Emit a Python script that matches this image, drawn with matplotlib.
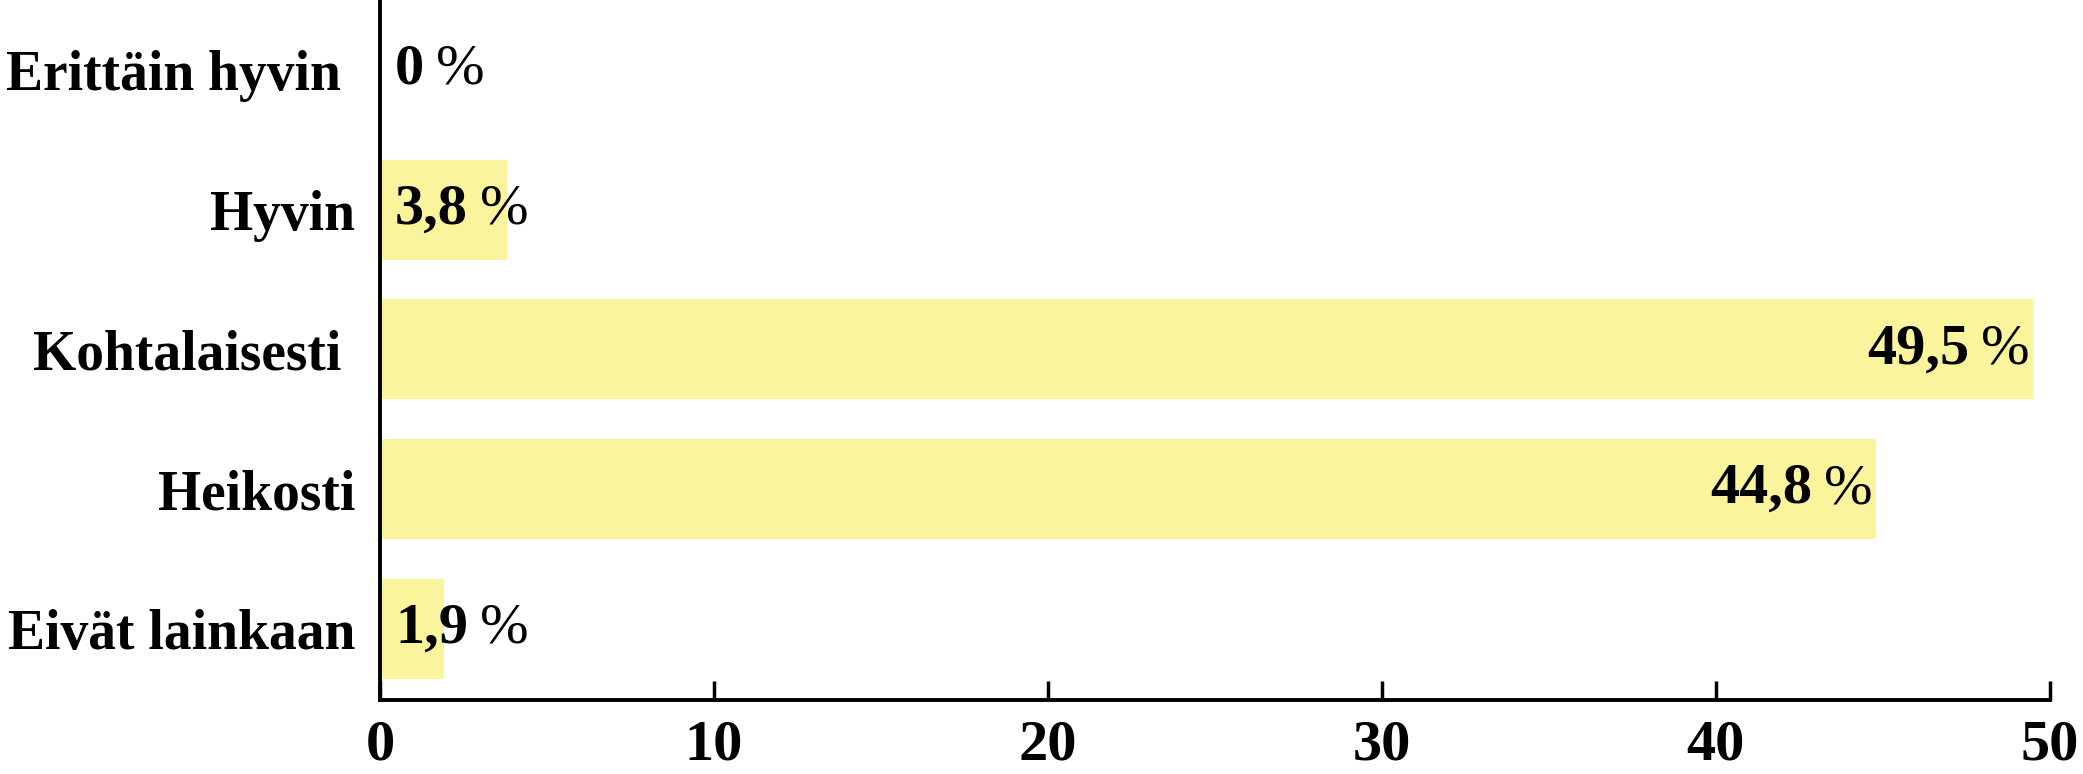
import matplotlib
matplotlib.use("Agg")
import matplotlib.pyplot as plt

# data
categories = ["Erittäin hyvin ", "Hyvin", "Kohtalaisesti ", "Heikosti", "Eivät lainkaan"]
values = [0.0, 3.8, 49.5, 44.8, 1.9]
value_labels = ["0", "3,8", "49,5", "44,8", "1,9"]
xticks = [0, 10, 20, 30, 40, 50]

BAR_COLOR = "#faf49c"
FONT = "Liberation Serif"
FS = 42

plt.rcParams["font.family"] = [FONT, "DejaVu Serif"]

fig = plt.figure(figsize=(20.83, 7.74), dpi=100)
ax = fig.add_axes([0.1825, 0.0956, 0.984 - 0.1825, 0.9044])

pos = list(range(len(categories)))
ax.barh(pos, values, height=0.715, color=BAR_COLOR, zorder=1)

ax.set_ylim(len(categories) - 0.49, -0.5)
ax.set_xlim(0, 50)

for side in ["top", "right"]:
    ax.spines[side].set_visible(False)
ax.spines["left"].set_linewidth(2.8)
ax.spines["bottom"].set_linewidth(2.8)
ax.spines["left"].set_zorder(3)

ax.set_yticks(pos)
ax.set_yticklabels(categories, fontsize=40, fontweight="bold")
ax.tick_params(axis="y", length=0, pad=18)

ax.set_xticks(xticks)
ax.set_xticklabels([str(t) for t in xticks], fontsize=FS, fontweight="bold")
ax.tick_params(axis="x", direction="in", length=14, width=2.5, pad=14)

fig.canvas.draw()
renderer = fig.canvas.get_renderer()
inv = ax.transData.inverted()

for p, v, lab in zip(pos, values, value_labels):
    if v > 10:
        # right aligned near the bar end: draw % first, then the number before it
        pct = ax.text(v - 0.1, p, "%", fontsize=FS, fontweight="normal",
                      ha="right", va="center", zorder=4)
        bb = pct.get_window_extent(renderer)
        x0 = inv.transform((bb.x0 - 12, bb.y0))[0]
        ax.text(x0, p, lab, fontsize=FS, fontweight="bold",
                ha="right", va="center", zorder=4)
    else:
        num = ax.text(0.45, p, lab, fontsize=FS, fontweight="bold",
                      ha="left", va="center", zorder=4)
        bb = num.get_window_extent(renderer)
        x1 = inv.transform((bb.x1 + 12, bb.y0))[0]
        ax.text(x1, p, "%", fontsize=FS, fontweight="normal",
                ha="left", va="center", zorder=4)

fig.savefig("out.png", dpi=100)
